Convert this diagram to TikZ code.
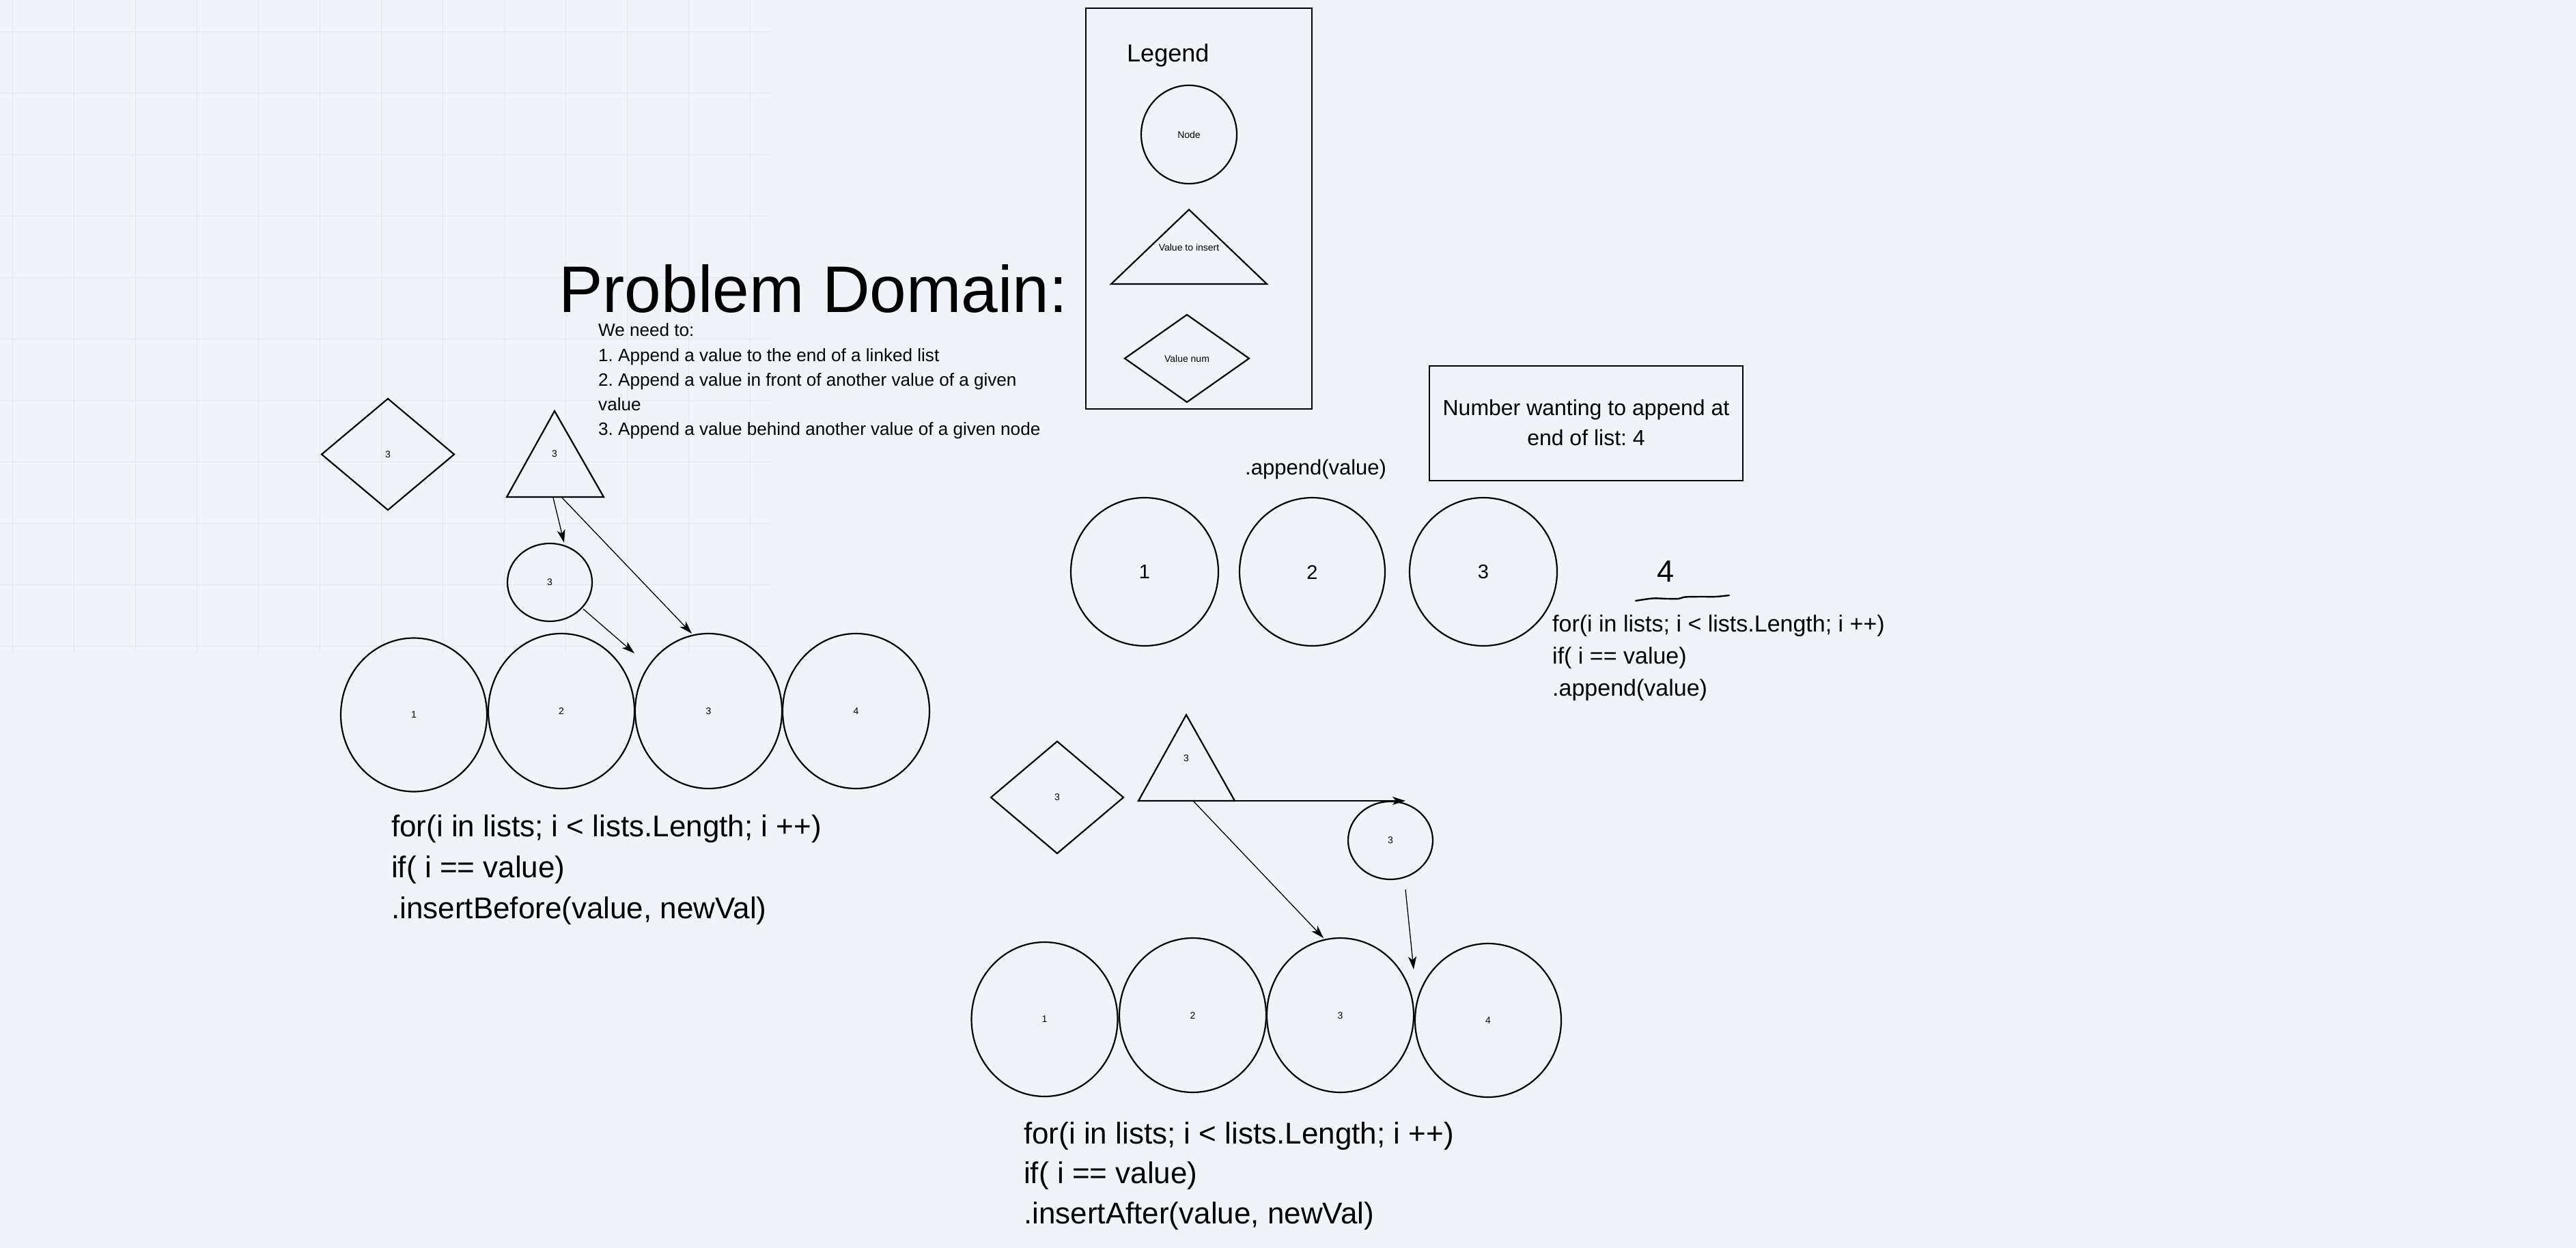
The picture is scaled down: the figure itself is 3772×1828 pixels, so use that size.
\documentclass[tikz,border=0pt]{standalone}
\usepackage{fontspec}
\setmainfont{Liberation Sans}
\usetikzlibrary{shapes.geometric,arrows.meta}
\definecolor{bgc}{RGB}{240,243,247}
\definecolor{gridc}{RGB}{226,231,237}
\frenchspacing
\begin{document}
\begin{tikzpicture}[x=1pt,y=-1pt,
  shp/.style={draw=black,line width=2.2pt},
  ell/.style={shp,ellipse,inner sep=0pt,outer sep=0pt},
  dia/.style={shp,diamond,inner sep=0pt,outer sep=0pt},
  tri/.style={shp,line join=miter},
  arr/.style={line width=1.3pt,-{Stealth[length=19pt,width=12pt,inset=5pt]}},
  gridline/.style={draw=gridc,line width=1.3pt},
  tinyt/.style={font=\fontsize{14}{16}\selectfont,inner sep=0pt},
  lbl/.style={font=\fontsize{29}{34}\selectfont,inner sep=0pt},
  txt/.style={inner sep=0pt,anchor=base west},
  titlef/.style={txt,font=\fontsize{96.5}{110}\selectfont},
  probf/.style={txt,font=\fontsize{26.1}{32}\selectfont},
  codef/.style={txt,font=\fontsize{44}{52}\selectfont},
  rcodef/.style={txt,font=\fontsize{34}{41}\selectfont},
  boxf/.style={inner sep=0pt,anchor=base,font=\fontsize{32}{38}\selectfont}
]
% background and grid
\useasboundingbox (0,0) rectangle (3772,1828);
\fill[bgc] (0,0) rectangle (3772,1828);
\foreach \gx in {18.5,108.5,...,1098.5} \draw[gridline] (\gx,0) -- (\gx,956);
\foreach \gy in {46.5,136.5,...,946.5} \draw[gridline] (0,\gy) -- (1128,\gy);

% ---------- Legend ----------
\draw[draw=black,line width=2.7pt] (1590,12) rectangle (1921,599);
\node[txt,font=\fontsize{36}{42}\selectfont] (legend) at (1650,90) {Legend};
\node[ell,minimum width=140pt,minimum height=144pt] (lgnode) at (1741,197) {};
\node[tinyt] (lgnodet) at (1741,197) {Node};
\draw[tri] (1627,416) -- (1741,307) -- (1855,416) -- cycle;
\node[tinyt] (lgtri) at (1741,362) {Value to insert};
\node[dia,minimum width=182pt,minimum height=128pt] (lgdia) at (1738,525) {};
\node[tinyt] (lgdiat) at (1738,525) {Value num};

% ---------- Title and problem text ----------
\node[titlef] (title) at (818,457) {Problem Domain:};
\node[probf] (p0) at (876,492) {We need to:};
\node[probf] (p1) at (876,529) {1. Append a value to the end of a linked list};
\node[probf] (p2) at (876,565) {2. Append a value in front of another value of a given};
\node[probf] (p3) at (876,601) {value};
\node[probf] (p4) at (876,637) {3. Append a value behind another value of a given node};

% ---------- Left group (insertBefore) ----------
\node[dia,minimum width=194pt,minimum height=163pt] (d1) at (568,665.5) {};
\node[tinyt] (d1t) at (568,665.5) {3};
\draw[tri] (742,728) -- (812,602) -- (884,728) -- cycle;
\node[tinyt] (t1t) at (812,665) {3};
\node[ell,minimum width=124pt,minimum height=114pt] (sc1) at (805,853) {};
\node[tinyt] (sc1t) at (805,853) {3};
\node[ell,minimum width=214pt,minimum height=225pt] (L1) at (606,1047) {};
\node[ell,minimum width=214pt,minimum height=227pt] (L2) at (822,1041.5) {};
\node[ell,minimum width=215pt,minimum height=227pt] (L3) at (1037.5,1041.5) {};
\node[ell,minimum width=215pt,minimum height=227pt] (L4) at (1253.5,1041.5) {};
\node[tinyt] (L1t) at (606,1047) {1};
\node[tinyt] (L2t) at (822,1042) {2};
\node[tinyt] (L3t) at (1037.5,1042) {3};
\node[tinyt] (L4t) at (1253.5,1042) {4};
\coordinate (t1b1) at (810,729);
\coordinate (t1b2) at (823,729);
\coordinate (a1e) at (826,795);
\coordinate (a2e) at (1013,928);
\coordinate (sc1o) at (854,892);
\coordinate (a3e) at (929,957);
\draw[arr] (t1b1) -- (a1e);
\draw[arr] (t1b2) -- (a2e);
\draw[arr] (sc1o) -- (a3e);
\node[codef] (lc1) at (573,1225) {for(i in lists; i < lists.Length; i ++)};
\node[codef] (lc2) at (573,1285) {if( i == value)};
\node[codef] (lc3) at (573,1345) {.insertBefore(value, newVal)};

% ---------- Top right (append) ----------
\node[txt,font=\fontsize{31}{37}\selectfont] (apv) at (1823,695) {.append(value)};
\draw[draw=black,line width=2.5pt] (2093,536) rectangle (2552,704);
\node[boxf] (bx1) at (2322.5,608) {Number wanting to append at};
\node[boxf] (bx2) at (2322.5,652) {end of list: 4};
\node[ell,minimum width=216pt,minimum height=217pt] (T1) at (1676,837.5) {};
\node[ell,minimum width=213pt,minimum height=217pt] (T2) at (1921.5,837.5) {};
\node[ell,minimum width=216pt,minimum height=217pt] (T3) at (2172,837.5) {};
\node[lbl] (T1t) at (1676,838) {1};
\node[lbl] (T2t) at (1921.5,838) {2};
\node[lbl] (T3t) at (2172,838) {3};
\node[inner sep=0pt,anchor=base,font=\fontsize{45}{52}\selectfont] (four) at (2439,852) {4};
\draw[line width=2.4pt,line cap=round] plot[smooth,tension=0.5] coordinates {(2395,880) (2420,876.5) (2442,877) (2458,877) (2467,874.5) (2490,874) (2512,874) (2532,872)};
\node[rcodef] (rc1) at (2273,925) {for(i in lists; i < lists.Length; i ++)};
\node[rcodef] (rc2) at (2273,972) {if( i == value)};
\node[rcodef] (rc3) at (2273,1019) {.append(value)};

% ---------- Bottom group (insertAfter) ----------
\node[dia,minimum width=194pt,minimum height=164pt] (d2) at (1548,1168) {};
\node[tinyt] (d2t) at (1548,1168) {3};
\draw[tri] (1667,1173) -- (1737,1047) -- (1808,1173) -- cycle;
\node[tinyt] (t2t) at (1737,1111) {3};
\node[ell,minimum width=124pt,minimum height=114pt] (sc2) at (2036,1231) {};
\node[tinyt] (sc2t) at (2036,1231) {3};
\node[ell,minimum width=214pt,minimum height=226pt] (B1) at (1529.5,1493) {};
\node[ell,minimum width=215pt,minimum height=226pt] (B2) at (1746.5,1487) {};
\node[ell,minimum width=215pt,minimum height=226pt] (B3) at (1962.5,1487) {};
\node[ell,minimum width=214pt,minimum height=225pt] (B4) at (2179,1494.5) {};
\node[tinyt] (B1t) at (1529.5,1493) {1};
\node[tinyt] (B2t) at (1746.5,1488) {2};
\node[tinyt] (B3t) at (1962.5,1488) {3};
\node[tinyt] (B4t) at (2179,1495) {4};
\coordinate (t2r) at (1808,1173);
\coordinate (t2b) at (1747,1173);
\coordinate (b1e) at (2058,1173);
\coordinate (b2e) at (1938,1374);
\coordinate (sc2o) at (2058,1303);
\coordinate (b3e) at (2070,1420);
\draw[arr] (t2r) -- (b1e);
\draw[arr] (t2b) -- (b2e);
\draw[arr] (sc2o) -- (b3e);
\node[codef] (bc1) at (1499,1675) {for(i in lists; i < lists.Length; i ++)};
\node[codef] (bc2) at (1499,1733) {if( i == value)};
\node[codef] (bc3) at (1499,1792) {.insertAfter(value, newVal)};
\end{tikzpicture}
\end{document}
